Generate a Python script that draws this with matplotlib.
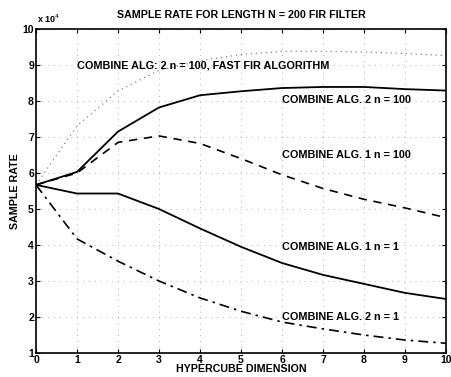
import matplotlib
matplotlib.use("Agg")
import matplotlib.pyplot as plt

dims = [0, 1, 2, 3, 4, 5, 6, 7, 8, 9, 10]
# sample rate in units of 1e4
alg2_n100_fast = [5.67, 7.31, 8.28, 8.85, 9.12, 9.29, 9.38, 9.38, 9.36, 9.32, 9.26]
alg2_n100 = [5.67, 6.03, 7.15, 7.82, 8.16, 8.27, 8.36, 8.39, 8.39, 8.33, 8.29]
alg1_n100 = [5.67, 6.0, 6.85, 7.03, 6.82, 6.4, 5.95, 5.57, 5.27, 5.03, 4.76]
alg1_n1 = [5.67, 5.43, 5.43, 5.0, 4.46, 3.95, 3.5, 3.17, 2.92, 2.67, 2.5]
alg2_n1 = [5.67, 4.17, 3.55, 3.0, 2.53, 2.16, 1.86, 1.67, 1.5, 1.36, 1.27]

labels = ["COMBINE ALG: 2 n = 100, FAST FIR ALGORITHM",
          "COMBINE ALG. 2 n = 100",
          "COMBINE ALG. 1 n = 100",
          "COMBINE ALG. 1 n = 1",
          "COMBINE ALG. 2 n = 1"]
label_x = [1.0, 6.0, 6.0, 6.0, 6.0]
label_y = [9.0, 8.03, 6.5, 3.95, 2.0]

xticks = list(range(0, 11))
yticks = list(range(1, 11))

plt.rcParams['font.family'] = ['Liberation Sans', 'DejaVu Sans']
fig = plt.figure(figsize=(4.51, 3.77), dpi=100)
ax = fig.add_axes([36/451, 1-353/377, 410/451, 324/377])

ax.plot(dims, alg2_n100_fast, color='#666666', linestyle=(0, (1, 3.5)), linewidth=0.8)
ax.plot(dims, alg2_n100, color='black', linestyle='-', linewidth=1.3)
ax.plot(dims, alg1_n100, color='black', linestyle=(0, (5, 4)), linewidth=1.2)
ax.plot(dims, alg1_n1, color='black', linestyle='-', linewidth=1.3)
ax.plot(dims, alg2_n1, color='black', linestyle=(0, (6, 3, 1.5, 3)), linewidth=1.2)

for t, x, y in zip(labels, label_x, label_y):
    ax.text(x, y, t, fontsize=7.8, fontweight='bold', va='center', ha='left')

ax.set_xlim(0, 10)
ax.set_ylim(1, 10)
ax.set_xticks(xticks)
ax.set_yticks(yticks)
ax.set_xticklabels([str(v) for v in xticks], fontsize=7.5, fontweight='bold')
ax.set_yticklabels([str(v) for v in yticks], fontsize=7.5, fontweight='bold')
ax.tick_params(direction='in', top=True, right=True, length=3, pad=1.5)
ax.grid(True, color='#999999', linestyle=(0, (1, 6)), linewidth=0.6)
for s in ax.spines.values():
    s.set_linewidth(1.2)

ax.set_title("SAMPLE RATE FOR LENGTH N = 200 FIR FILTER", fontsize=7.7,
             fontweight='bold', pad=8)
ax.set_xlabel("HYPERCUBE DIMENSION", fontsize=7.7, fontweight='bold', labelpad=-1)
ax.set_ylabel("SAMPLE RATE", fontsize=7.7, fontweight='bold', labelpad=2)
ax.text(0.003, 1.012, r"x 10$^4$", transform=ax.transAxes, fontsize=6.5,
        fontweight='bold', va='bottom', ha='left')

fig.savefig("out.png", dpi=100)
